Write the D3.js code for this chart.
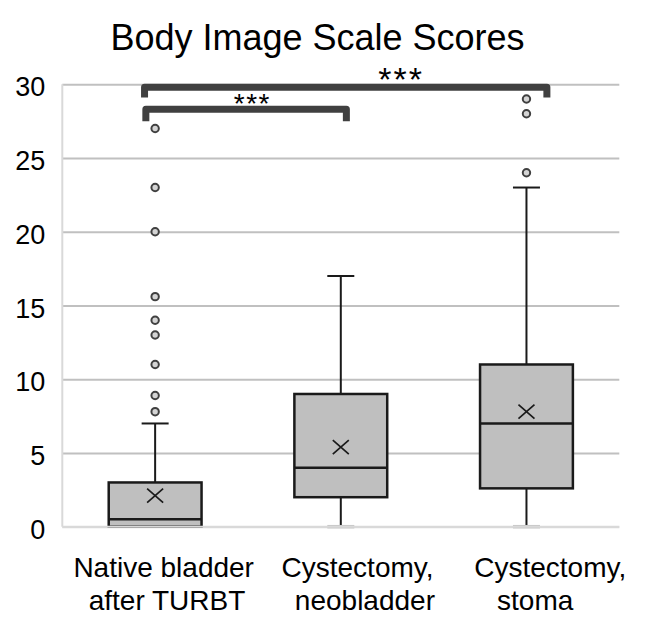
<!DOCTYPE html>
<html>
<head>
<meta charset="utf-8">
<script src="https://cdn.jsdelivr.net/npm/d3@7"></script>
<style>
  body { margin: 0; background: #fff; }
  text { font-family: "Liberation Sans", Arial, sans-serif; fill: #000; }
</style>
</head>
<body>
<svg class="chart"></svg>
<script>
// Data
var categories = ["Native bladder after TURBT", "Cystectomy, neobladder", "Cystectomy, stoma"];
var labelLines = [["Native bladder", "after TURBT"], ["Cystectomy,", "neobladder"], ["Cystectomy,", "stoma"]];
var whiskerLow = [0, 0, 0];
var q1 = [0, 2, 2.6];
var median = [0.5, 4, 7];
var q3 = [3, 9, 11];
var whiskerHigh = [7, 17, 23];
var means = [2.1, 5.4, 7.8];
var outliers = [
    [7.8, 8.9, 11, 13, 14, 15.6, 20, 23, 27],
    [],
    [24, 28, 29]
];
var yTicks = [0, 5, 10, 15, 20, 25, 30];
var sigLabels = ["***", "***"];

// Total dimensions
var w = 646,
    h = 630;

var svg = d3.select(".chart")
    .attr("width", w)
    .attr("height", h);

// Plot area
var plotL = 62.3, plotR = 619.3, plotT = 84.3, plotB = 526.7;

var yScale = d3.scaleLinear()
    .domain([0, 30])
    .range([plotB, plotT]);

var xBand = d3.scaleBand()
    .domain(categories)
    .range([plotL, plotR])
    .paddingInner(0)
    .paddingOuter(0);

// continuous position: category i centred on i
var xPos = d3.scaleLinear()
    .domain([-0.5, categories.length - 0.5])
    .range([plotL, plotR]);

var boxW = xBand.bandwidth() * 0.5,
    capW = 27;

function cx(i) { return xBand(categories[i]) + xBand.bandwidth() / 2; }

// ==================== grid ====================
var yAxis = d3.axisLeft(yScale)
    .tickValues(yTicks)
    .tickSize(-(plotR - plotL))
    .tickFormat(d3.format("d"));

var gAxis = svg.append("g")
    .attr("class", "y axis")
    .attr("transform", "translate(" + plotL + ",0)")
    .call(yAxis);

gAxis.select(".domain").remove();
gAxis.selectAll(".tick line")
    .attr("stroke", function(d) { return d === 0 ? "#d9d9d9" : "#c0c0c0"; })
    .attr("stroke-width", 2);
gAxis.selectAll(".tick text")
    .attr("x", -17)
    .attr("dy", "0.43em")
    .attr("font-size", "27px")
    .attr("font-family", "Liberation Sans, Arial, sans-serif")
    .attr("fill", "#000");

svg.append("line")
    .attr("x1", plotL).attr("x2", plotL)
    .attr("y1", plotT).attr("y2", plotB)
    .attr("stroke", "#d9d9d9")
    .attr("stroke-width", 2);

// ==================== boxes ====================
var g = svg.append("g").attr("class", "boxes");

categories.forEach(function(c, i) {
    var x = cx(i);
    // upper whisker
    g.append("line")
        .attr("x1", x).attr("x2", x)
        .attr("y1", yScale(q3[i])).attr("y2", yScale(whiskerHigh[i]))
        .attr("stroke", "#1a1a1a").attr("stroke-width", 2);
    g.append("line")
        .attr("x1", x - capW / 2).attr("x2", x + capW / 2)
        .attr("y1", yScale(whiskerHigh[i])).attr("y2", yScale(whiskerHigh[i]))
        .attr("stroke", "#1a1a1a").attr("stroke-width", 2);
    // lower whisker
    if (whiskerLow[i] < q1[i]) {
        g.append("line")
            .attr("x1", x).attr("x2", x)
            .attr("y1", yScale(q1[i])).attr("y2", yScale(whiskerLow[i]))
            .attr("stroke", "#1a1a1a").attr("stroke-width", 2);
        g.append("line")
            .attr("x1", x - capW / 2).attr("x2", x + capW / 2)
            .attr("y1", yScale(whiskerLow[i])).attr("y2", yScale(whiskerLow[i]))
            .attr("stroke", "#c4c4c4").attr("stroke-width", 3.5);
    }
    // box
    g.append("rect")
        .attr("x", x - boxW / 2)
        .attr("y", yScale(q3[i]))
        .attr("width", boxW)
        .attr("height", yScale(q1[i]) - yScale(q3[i]))
        .attr("fill", "#bfbfbf")
        .attr("stroke", "#1a1a1a")
        .attr("stroke-width", 2.5);
    // median
    g.append("line")
        .attr("x1", x - boxW / 2).attr("x2", x + boxW / 2)
        .attr("y1", yScale(median[i])).attr("y2", yScale(median[i]))
        .attr("stroke", "#1a1a1a").attr("stroke-width", 2.5);
    // mean
    var my = yScale(means[i]);
    g.append("path")
        .attr("d", "M" + (x - 8) + "," + (my - 7) + "L" + (x + 8) + "," + (my + 7) +
                   "M" + (x - 8) + "," + (my + 7) + "L" + (x + 8) + "," + (my - 7))
        .attr("fill", "none")
        .attr("stroke", "#1a1a1a")
        .attr("stroke-width", 1.7);
    // outliers
    g.selectAll(".out" + i)
        .data(outliers[i])
        .enter().append("circle")
        .attr("class", "out" + i)
        .attr("cx", x)
        .attr("cy", function(d) { return yScale(d); })
        .attr("r", 3.7)
        .attr("fill", "#d4d4d4")
        .attr("stroke", "#404040")
        .attr("stroke-width", 2);
});

// baseline over the box bottoms
svg.append("line")
    .attr("x1", plotL).attr("x2", plotR)
    .attr("y1", plotB).attr("y2", plotB)
    .attr("stroke", "#d9d9d9")
    .attr("stroke-width", 2);

// ==================== significance brackets ====================
var brackets = [
    { from: -0.05, to: 1.03, level: 28.3, drop: 27.5, starAt: 0.52, size: 28, spacing: 1.5 },
    { from: -0.057, to: 2.11, level: 29.8, drop: 29.1, starAt: 1.32, size: 34, spacing: 2 }
];

brackets.forEach(function(b, i) {
    svg.append("path")
        .attr("d", "M" + xPos(b.from) + "," + yScale(b.drop) +
                   "V" + yScale(b.level) +
                   "H" + xPos(b.to) +
                   "V" + yScale(b.drop))
        .attr("fill", "none")
        .attr("stroke", "#404040")
        .attr("stroke-width", 7)
        .attr("stroke-linejoin", "round");
    svg.append("text")
        .attr("x", xPos(b.starAt) + b.spacing / 2)
        .attr("y", yScale(b.level) + 4)
        .attr("text-anchor", "middle")
        .attr("font-size", b.size + "px")
        .attr("letter-spacing", b.spacing + "px")
        .text(sigLabels[i]);
});

// ==================== labels ====================
var labelShift = [[0.046, 0.064], [1.09, 1.13], [2.128, 2.047]];

labelLines.forEach(function(lines, i) {
    lines.forEach(function(t, j) {
        svg.append("text")
            .attr("x", xPos(labelShift[i][j]))
            .attr("y", 577 + j * 33)
            .attr("text-anchor", "middle")
            .attr("font-size", "28px")
            .text(t);
    });
});

svg.append("text")
    .attr("x", 317.5)
    .attr("y", 50)
    .attr("text-anchor", "middle")
    .attr("font-size", "36px")
    .text("Body Image Scale Scores");
</script>
</body>
</html>
